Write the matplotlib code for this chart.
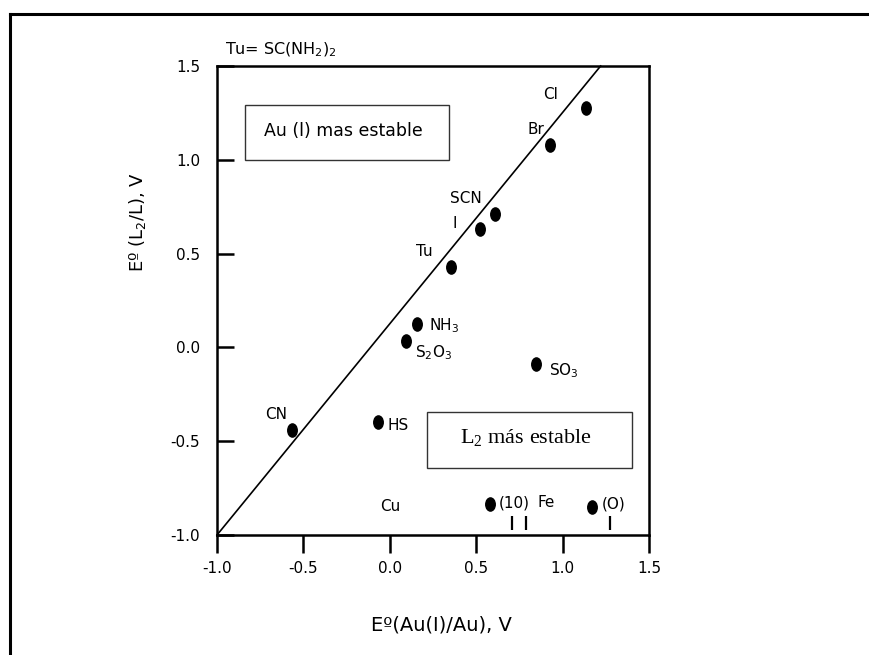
import numpy as np
import matplotlib
matplotlib.use('Agg')
from matplotlib import pyplot as plt
from matplotlib import rcParams
from matplotlib.path import Path
from matplotlib.transforms import Affine2D
from matplotlib.patches import Rectangle
from matplotlib.lines import Line2D

rcParams['font.family'] = ['DejaVu Sans']
rcParams['mathtext.default'] = 'regular'
rcParams['xtick.labelsize'] = 11
rcParams['ytick.labelsize'] = 11

# E0(Au(I)/Au) vs E0(L2/L) for each ligand
ligands = ['Cl', 'Br', 'SCN', 'I', 'Tu', 'NH3', 'S2O3', 'SO3', 'CN', 'HS', '(10)', '(O)']
e_au = [1.137, 0.929, 0.607, 0.524, 0.354, 0.157, 0.094, 0.846, -0.566, -0.067, 0.578, 1.170]
e_l2 = [1.278, 1.079, 0.710, 0.629, 0.430, 0.127, 0.036, -0.087, -0.440, -0.398, -0.833, -0.850]

# stability boundary
boundary_x = [-1.0, 1.22]
boundary_y = [-1.0, 1.5]

# short markers above the axis (Fe, O)
marks_x = [0.705, 0.788, 1.274]

ticks = [-1.0, -0.5, 0.0, 0.5, 1.0, 1.5]
ticklabels = ['-1.0', '-0.5', '0.0', '0.5', '1.0', '1.5']

# text labels next to the points: (text, x, y, ha)
point_labels = [
    ('Cl', 0.928, 1.35, 'center'),
    ('Br', 0.848, 1.163, 'center'),
    ('SCN', 0.438, 0.795, 'center'),
    ('I', 0.374, 0.658, 'center'),
    ('Tu', 0.201, 0.513, 'center'),
    ('NH$_3$', 0.225, 0.118, 'left'),
    ('S$_2$O$_3$', 0.143, -0.028, 'left'),
    ('SO$_3$', 0.924, -0.125, 'left'),
    ('CN', -0.655, -0.36, 'center'),
    ('HS', -0.012, -0.417, 'left'),
    ('Cu', 0.0, -0.85, 'center'),
    ('(10)', 0.632, -0.828, 'left'),
    ('Fe', 0.855, -0.828, 'left'),
    ('(O)', 1.225, -0.836, 'left'),
]

fig = plt.figure(figsize=(8.69, 6.55), dpi=100)
ax = fig.add_axes([217 / 869, 1 - 535 / 655, 432 / 869, 469 / 655])
ax.set_xlim(-1.0, 1.5)
ax.set_ylim(-1.0, 1.5)
for s in ax.spines.values():
    s.set_linewidth(1.8)

ax.set_xticks(ticks)
ax.set_xticklabels(ticklabels)
ax.set_yticks(ticks)
ax.set_yticklabels(ticklabels)
ax.tick_params(axis='x', direction='out', length=13, width=1.8, pad=6)
ax.tick_params(axis='y', direction='in', length=12, width=1.8, pad=12)

ax.plot(boundary_x, boundary_y, color='black', lw=1.2, clip_on=False)

dot = Path.unit_circle().transformed(Affine2D().scale(0.72, 1.0))
ax.plot(e_au, e_l2, linestyle='none', marker=dot, markersize=9.5, color='black')
ax.vlines(marks_x, -0.975, -0.9, color='black', lw=1.6)

for txt, x, y, ha in point_labels:
    ax.text(x, y, txt, ha=ha, va='center', fontsize=11)

# region boxes
ax.add_patch(Rectangle((-0.838, 1.0), 1.178, 0.293, fill=False, lw=1.0, ec='#333333'))
ax.text(-0.27, 1.152, 'Au (l) mas estable', ha='center', va='center', fontsize=12.5)
ax.add_patch(Rectangle((0.218, -0.644), 1.184, 0.298, fill=False, lw=1.0, ec='#333333'))
ax.text(0.79, -0.48, 'L$_2$ más estable', ha='center', va='center', fontsize=16,
        family='Liberation Serif', math_fontfamily='dejavuserif')

fig.text(225 / 869, 1 - 50 / 655, 'Tu= SC(NH$_2$)$_2$', ha='left', va='center', fontsize=11.5)
fig.text(441 / 869, 1 - 625 / 655, 'Eº(Au(I)/Au), V', ha='center', va='center', fontsize=14)
fig.text(138 / 869, 1 - 222 / 655, 'Eº (L$_2$/L), V', ha='center', va='center',
         rotation=90, fontsize=13)

# outer frame, running off the right and bottom edges
fig.add_artist(Line2D([10 / 869, 1.0], [1 - 14 / 655] * 2, color='black', lw=2.2,
                      transform=fig.transFigure))
fig.add_artist(Line2D([10 / 869] * 2, [1 - 14 / 655, 0.0], color='black', lw=2.2,
                      transform=fig.transFigure))

fig.savefig('out.png', dpi=100)
